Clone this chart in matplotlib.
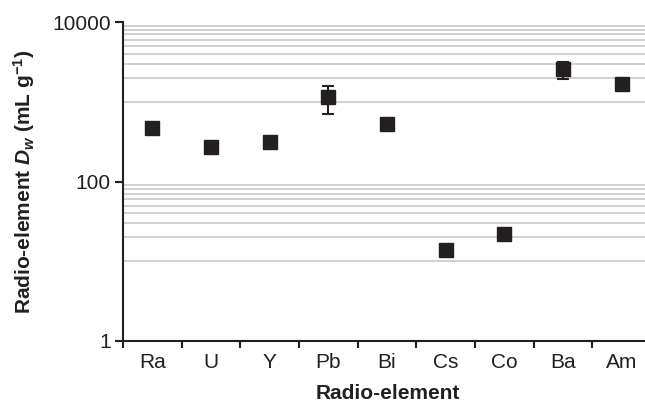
import numpy as np
import matplotlib
matplotlib.use("Agg")
import matplotlib.pyplot as plt
from matplotlib.ticker import FixedLocator, NullFormatter

# Distribution coefficients
elements = ["Ra", "U", "Y", "Pb", "Bi", "Cs", "Co", "Ba", "Am"]
dw_values = [473, 271, 310, 1137, 521, 13.7, 22.2, 2550, 1655]
dw_errors = [0, 0, 0, 430, 0, 0, 0, 625, 0]

# Excel-style gridlines: tenths within the 10-100 and 1000-10000 decades
grid_values = [10, 20, 30, 40, 50, 60, 70, 80, 90,
               1000, 2000, 3000, 4000, 5000, 6000, 7000, 8000, 9000, 10000]
major_ticks = [1, 100, 10000]

INK = "#231f20"

plt.rcParams["font.family"] = ["Liberation Sans", "DejaVu Sans"]
plt.rcParams["mathtext.fontset"] = "custom"
plt.rcParams["mathtext.rm"] = "Liberation Sans:bold"
plt.rcParams["mathtext.bf"] = "Liberation Sans:bold"
plt.rcParams["mathtext.it"] = "Liberation Sans:bold:italic"

fig = plt.figure(figsize=(6.45, 4.05), dpi=100)
W, H = 645, 405
left, right, top, bottom = 123, 651, 22, 341
ax = fig.add_axes([left / W, (H - bottom) / H, (right - left) / W, (bottom - top) / H])

x = np.arange(len(elements))
yerr = np.array(dw_errors, dtype=float)
ax.errorbar(x, dw_values, yerr=yerr, fmt="s", color=INK, ecolor=INK,
            markersize=10, elinewidth=1.5, capsize=4.5, capthick=1.5,
            zorder=3, clip_on=False)

ax.set_yscale("log")
ax.set_ylim(1, 10000)
ax.set_xlim(-0.5, len(elements) - 0.5)

ax.yaxis.set_major_locator(FixedLocator(major_ticks))
ax.set_yticklabels([str(v) for v in major_ticks])
ax.yaxis.set_minor_locator(FixedLocator(grid_values))
ax.yaxis.set_minor_formatter(NullFormatter())
ax.grid(which="minor", axis="y", color="#c4c4c4", lw=1.1)
ax.set_axisbelow(True)

ax.set_xticks(x)
ax.set_xticklabels(elements)
ax.set_xticks(np.arange(-0.5, len(elements)), minor=True)

ax.tick_params(axis="y", which="major", length=6, width=1.5, color=INK,
               labelsize=15, labelcolor=INK, pad=3)
ax.tick_params(axis="y", which="minor", length=0)
ax.tick_params(axis="x", which="major", length=0, labelsize=15,
               labelcolor=INK, pad=9)
ax.tick_params(axis="x", which="minor", length=5, width=1.5, color=INK)

for side in ("top", "right"):
    ax.spines[side].set_visible(False)
for side in ("left", "bottom"):
    ax.spines[side].set_color(INK)
    ax.spines[side].set_linewidth(1.5)

ax.set_xlabel("Radio-element", fontsize=15, fontweight="bold", color=INK)
ax.set_ylabel(r"Radio-element $D_w$ (mL g$^{-1}$)", fontsize=15,
              fontweight="bold", color=INK)
ax.xaxis.set_label_coords((388 - left) / (right - left), -(384 - bottom) / (bottom - top))
ax.yaxis.set_label_coords(-(left - 37) / (right - left), 0.5)

fig.savefig("out.png", dpi=100)
